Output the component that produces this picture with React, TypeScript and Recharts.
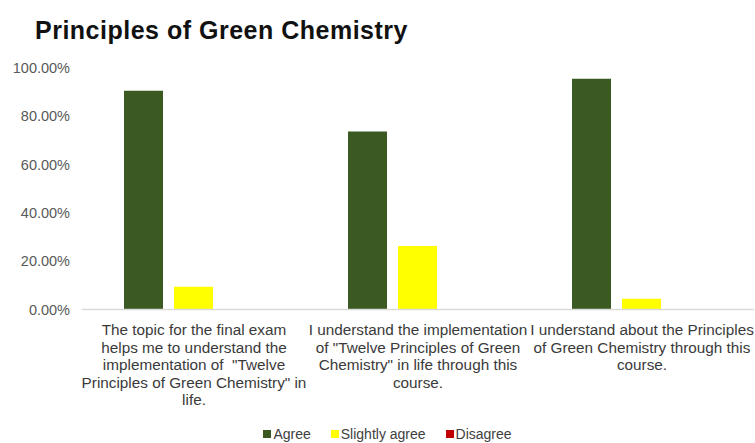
import { BarChart, Bar, XAxis, YAxis } from "recharts";

const categories = ["Q1", "Q2", "Q3"];

const tickLabels = [
  [
    "The topic for the final exam",
    "helps me to understand the",
    "implementation of  \"Twelve",
    "Principles of Green Chemistry\" in",
    "life.",
  ],
  [
    "I understand the implementation",
    "of \"Twelve Principles of Green",
    "Chemistry\" in life through this",
    "course.",
  ],
  [
    "I understand about the Principles",
    "of Green Chemistry through this",
    "course.",
  ],
];

const agree = [90.63, 73.7, 95.5];
const slightlyAgree = [9.37, 26.3, 4.5];
const disagree = [0, 0, 0];

const yTicks = [0, 20, 40, 60, 80, 100];

const series = [
  { key: "agree", name: "Agree", color: "#3a5a22" },
  { key: "slightly", name: "Slightly agree", color: "#ffff00" },
  { key: "disagree", name: "Disagree", color: "#c00000" },
];

const data = categories.map((c, i) => ({
  category: c,
  agree: agree[i],
  slightly: slightlyAgree[i],
  disagree: disagree[i],
}));

const FONT = "'Liberation Sans', Arial, sans-serif";

const CategoryTick = (props: any) => {
  const { x, y, index } = props;
  const lines = tickLabels[index] || [];
  return (
    <text x={x} y={y} textAnchor="middle" fill="#3a3a3a" fontSize={15.3} fontFamily={FONT} style={{ whiteSpace: "pre" }}>
      {lines.map((line, i) => (
        <tspan key={i} x={x} y={y + 17.5 + i * 17.5}>
          {line}
        </tspan>
      ))}
    </text>
  );
};

export default function App() {
  return (
    <div style={{ position: "absolute", left: 0, top: 0, width: 755, height: 443, background: "#fff" }}>
      <div
        style={{
          position: "absolute",
          left: 35,
          top: 15,
          lineHeight: "30px",
          fontFamily: FONT,
          fontWeight: 700,
          fontSize: 25,
          letterSpacing: 0.5,
          color: "#111",
          whiteSpace: "nowrap",
        }}
      >
        Principles of Green Chemistry
      </div>
      <BarChart
        width={755}
        height={443}
        data={data}
        margin={{ top: 68, right: 1, bottom: 93.5, left: 0 }}
        barGap={11}
        barCategoryGap={42}
      >
        <XAxis
          dataKey="category"
          height={40}
          tickLine={false}
          axisLine={{ stroke: "#d9d9d9", strokeWidth: 1.5 }}
          tick={<CategoryTick />}
          interval={0}
        />
        <YAxis
          domain={[0, 100]}
          ticks={yTicks}
          width={82}
          axisLine={false}
          tickLine={false}
          tickMargin={6}
          tickFormatter={(v: number) => `${v.toFixed(2)}%`}
          tick={{ fill: "#595959", fontSize: 14.5, fontFamily: FONT }}
        />
        {series.map((s) => (
          <Bar key={s.key} dataKey={s.key} name={s.name} fill={s.color} isAnimationActive={false} />
        ))}
      </BarChart>
      <div
        style={{
          position: "absolute",
          left: 0,
          width: 755,
          top: 426,
          lineHeight: "16px",
          display: "flex",
          justifyContent: "center",
          paddingLeft: 10,
          gap: 20,
          fontFamily: FONT,
          fontSize: 14,
          color: "#404040",
        }}
      >
        {series.map((s) => (
          <div key={s.key} style={{ display: "flex", alignItems: "center", gap: 2 }}>
            <span style={{ display: "inline-block", width: 8, height: 8, background: s.color }} />
            <span>{s.name}</span>
          </div>
        ))}
      </div>
    </div>
  );
}
